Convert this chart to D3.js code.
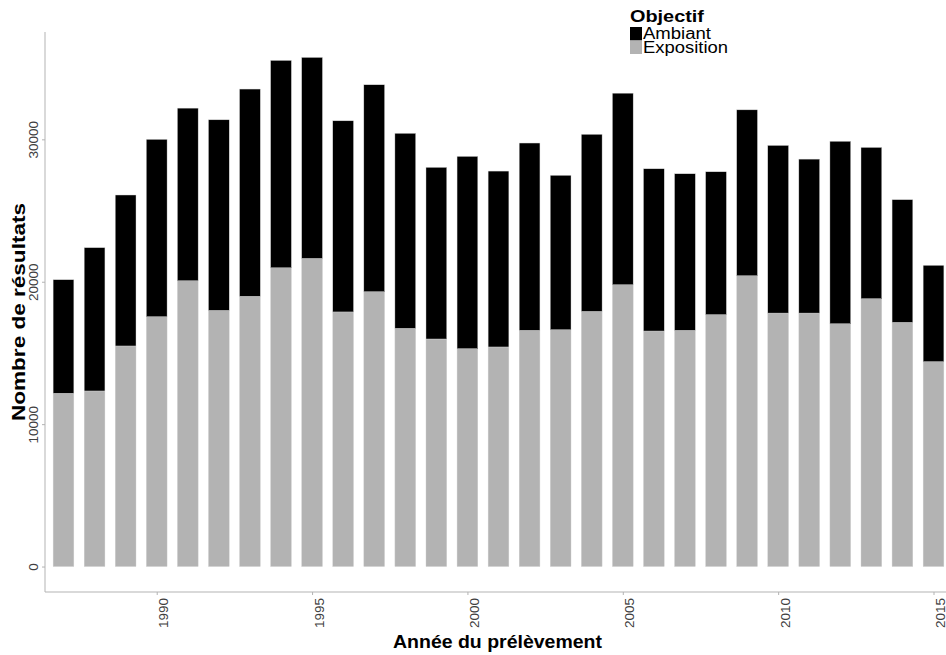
<!DOCTYPE html>
<html>
<head>
<meta charset="utf-8">
<script src="https://cdn.jsdelivr.net/npm/d3@7"></script>
<style>
  body { margin: 0; background: #fff; }
  svg { display: block; font-family: "Liberation Sans", Arial, sans-serif; }
</style>
</head>
<body>
<svg id="chart" width="946" height="655"></svg>
<script>
// ---- data ----
const years = [1987,1988,1989,1990,1991,1992,1993,1994,1995,1996,1997,1998,1999,2000,2001,2002,2003,2004,2005,2006,2007,2008,2009,2010,2011,2012,2013,2014,2015];
const exposition = [12170,12330,15490,17545,20070,17990,18980,20980,21640,17880,19300,16730,15980,15300,15420,16590,16630,17920,19790,16540,16590,17690,20420,17800,17800,17050,18810,17150,14390];
const total = [20140,22390,26090,29995,32190,31370,33530,35540,35750,31300,33830,30420,28030,28800,27770,29740,27470,30350,33240,27930,27580,27720,32070,29570,28610,29860,29430,25760,21150];
const ambiant = total.map((t, i) => t - exposition[i]);
const seriesNames = ["Ambiant", "Exposition"];
const seriesColors = ["#000000", "#b3b3b3"];
const yTicks = [0, 10000, 20000, 30000];
const xTicks = [1990, 1995, 2000, 2005, 2010, 2015];

(function () {
// ---- layout ----
const svg = d3.select("#chart");
const W = 946, H = 655;
const mLeft = 45, mTop = 32, mBottom = 592;
const x = d3.scaleLinear().domain([1986.405, 2015.595]).range([mLeft, 952]);
const yMax = d3.max(total);
const pad = yMax * 0.05;
const y = d3.scaleLinear().domain([-pad, yMax + pad]).range([mBottom, mTop]);
const barW = (x(1) - x(0)) * 0.667;

const rows = years.map((yr, i) => ({ year: yr, Exposition: exposition[i], Ambiant: ambiant[i] }));
const stack = d3.stack().keys(["Exposition", "Ambiant"])(rows);
const color = d3.scaleOrdinal().domain(seriesNames).range(seriesColors);

// bars
svg.append("g").selectAll("g").data(stack).join("g")
  .attr("fill", d => color(d.key))
  .selectAll("rect").data(d => d).join("rect")
  .attr("x", d => x(d.data.year) - barW / 2)
  .attr("width", barW)
  .attr("y", d => y(d[1]))
  .attr("height", d => y(d[0]) - y(d[1]))
  .attr("stroke", "#d0d0d0")
  .attr("stroke-width", 0.4);

// y axis
const axisColor = "#b3b3b3";
const yAxis = svg.append("g").attr("transform", `translate(${mLeft},0)`)
  .call(d3.axisLeft(y).tickValues(yTicks).tickSize(3).tickPadding(2).tickFormat(d3.format("d")));
yAxis.select(".domain").attr("d", `M0,${mTop}V${mBottom}`).attr("stroke", axisColor);
yAxis.selectAll(".tick line").attr("stroke", axisColor);
yAxis.selectAll(".tick text")
  .attr("fill", "#404040").attr("font-size", 13.5)
  .attr("x", null).attr("dy", null)
  .attr("text-anchor", "middle")
  .attr("transform", "translate(-7,0) rotate(-90)");

// x axis
const xAxis = svg.append("g").attr("transform", `translate(0,${mBottom})`)
  .call(d3.axisBottom(x).tickValues(xTicks).tickSize(3).tickFormat(d3.format("d")));
xAxis.select(".domain").attr("d", `M${mLeft},0H${W}`).attr("stroke", axisColor);
xAxis.selectAll(".tick line").attr("stroke", axisColor);
xAxis.selectAll(".tick text")
  .attr("fill", "#404040").attr("font-size", 13.5)
  .attr("y", null).attr("dy", null)
  .attr("text-anchor", "end")
  .attr("transform", "translate(11,6) rotate(-90)");

// axis titles
svg.append("text")
  .attr("x", 497.5).attr("y", 648)
  .attr("text-anchor", "middle").attr("font-weight", "bold").attr("font-size", 17.5)
  .attr("textLength", 209).attr("lengthAdjust", "spacingAndGlyphs")
  .text("Année du prélèvement");
svg.append("text")
  .attr("transform", `translate(25,${(mTop + mBottom) / 2}) rotate(-90)`)
  .attr("text-anchor", "middle").attr("font-weight", "bold").attr("font-size", 17.5)
  .attr("textLength", 218).attr("lengthAdjust", "spacingAndGlyphs")
  .text("Nombre de résultats");

// legend
const lg = svg.append("g").attr("transform", "translate(630,0)");
lg.append("text").attr("x", 0).attr("y", 22)
  .attr("font-weight", "bold").attr("font-size", 17)
  .attr("textLength", 74).attr("lengthAdjust", "spacingAndGlyphs")
  .text("Objectif");
const labelLen = [68, 85];
seriesNames.forEach((name, i) => {
  lg.append("rect").attr("x", 0).attr("y", 27 + i * 13.5).attr("width", 12).attr("height", 13.5)
    .attr("fill", color(name));
  lg.append("text").attr("x", 13).attr("y", 39 + i * 14.3)
    .attr("font-size", 16).attr("fill", "#000")
    .attr("textLength", labelLen[i]).attr("lengthAdjust", "spacingAndGlyphs")
    .text(name);
});
})();
</script>
</body>
</html>
